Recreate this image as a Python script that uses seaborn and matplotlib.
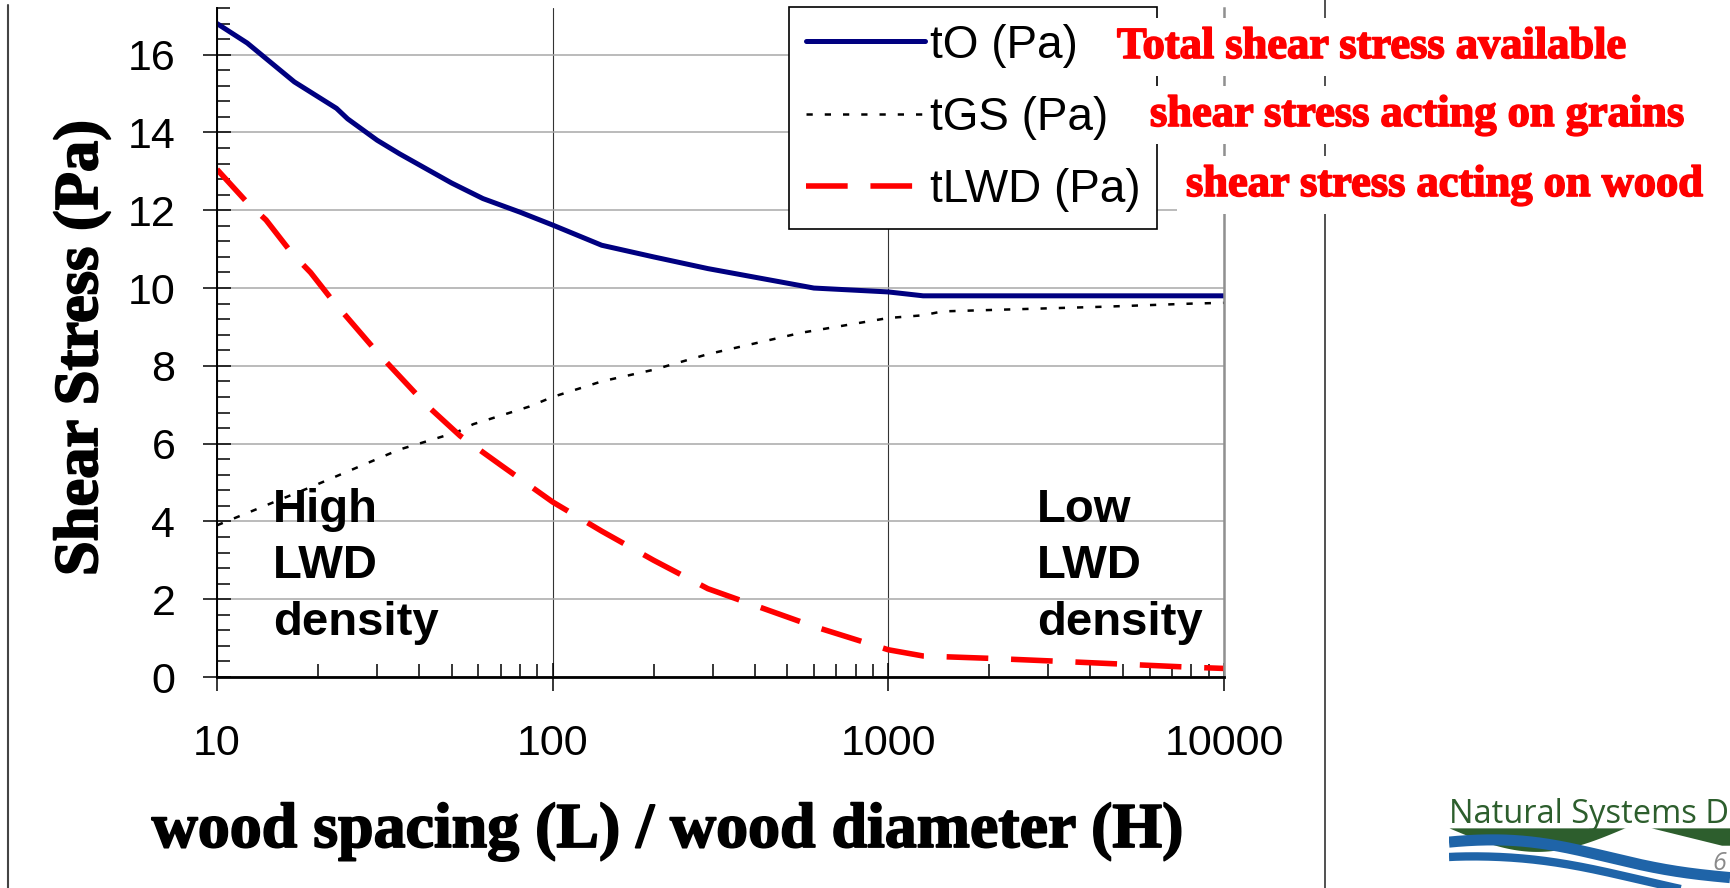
import numpy as np
import pandas as pd
import matplotlib
matplotlib.use("Agg")
import matplotlib.pyplot as plt
import matplotlib.ticker as mticker
import matplotlib.patheffects as pe
from matplotlib.lines import Line2D
import seaborn as sns

# values (x = L/H, y = shear stress in Pa)
x_to = [10, 12.3, 17, 22.7, 24.5, 30, 35, 50, 62, 80, 100, 140, 200, 290, 600, 1000, 1270, 10000]
y_to = [16.8, 16.3, 15.3, 14.62, 14.35, 13.8, 13.45, 12.7, 12.3, 11.95, 11.62, 11.1, 10.8, 10.5, 10.0, 9.9, 9.8, 9.8]

x_gs = [10, 19, 35, 40, 52, 58, 70, 85, 100, 140, 200, 290, 550, 1000, 1270, 1450, 2300, 4400, 8000, 10000]
y_gs = [3.9, 4.88, 5.85, 6.0, 6.3, 6.5, 6.72, 6.95, 7.2, 7.6, 7.9, 8.3, 8.85, 9.23, 9.3, 9.4, 9.45, 9.52, 9.6, 9.62]

x_lwd = [10, 12.3, 14, 16.7, 19, 22, 30, 42, 53, 70, 100, 140, 200, 290, 600, 1000, 1270, 2000, 3300, 5000, 8000, 10000]
y_lwd = [13.05, 12.2, 11.75, 10.9, 10.4, 9.7, 8.35, 7.0, 6.2, 5.45, 4.5, 3.75, 3.0, 2.27, 1.3, 0.7, 0.54, 0.48, 0.4, 0.33, 0.25, 0.22]

series_labels = ["tO (Pa)", "tGS (Pa)", "tLWD (Pa)"]
notes = ["Total shear stress available", "shear stress acting on grains", "shear stress acting on wood"]
xticks = [10, 100, 1000, 10000]
yticks = list(range(0, 17, 2))

W, H = 1730, 888


def fx(px):
    return px / W


def fy(py):
    return 1 - py / H


sns.set_theme(style="white")
plt.rcParams["font.family"] = ["Liberation Sans", "DejaVu Sans"]
plt.rcParams["text.color"] = "black"
serif = ["Liberation Serif", "DejaVu Serif"]

fig = plt.figure(figsize=(17.3, 8.88), dpi=100)
ax = fig.add_axes([fx(217), fy(677), (1224 - 217) / W, (677 - 8) / H])

sns.lineplot(data=pd.DataFrame({"x": x_to, "y": y_to}), x="x", y="y", ax=ax,
             color="#000080", lw=3.6, sort=False, estimator=None, label=series_labels[0])
sns.lineplot(data=pd.DataFrame({"x": x_gs, "y": y_gs}), x="x", y="y", ax=ax,
             color="black", lw=1.8, linestyle=(0, (2.5, 4.8)), sort=False, estimator=None,
             label=series_labels[1])
sns.lineplot(data=pd.DataFrame({"x": x_lwd, "y": y_lwd}), x="x", y="y", ax=ax,
             color="#ff0000", lw=4, linestyle=(0, (7.5, 4.1)), sort=False, estimator=None,
             label=series_labels[2])

ax.set_xscale("log")
ax.set_xlim(10, 10000)
ax.set_ylim(0, 17.2)
ax.set_xticks(xticks)
ax.xaxis.set_major_formatter(mticker.FuncFormatter(lambda v, _: f"{v:g}"))
ax.xaxis.set_minor_locator(mticker.LogLocator(base=10, subs=np.arange(2, 10)))
ax.xaxis.set_minor_formatter(mticker.NullFormatter())
ax.set_yticks(yticks)
ax.yaxis.set_minor_locator(mticker.MultipleLocator(0.4))
ax.set_xlabel("")
ax.set_ylabel("")

ax.set_axisbelow(True)
ax.yaxis.grid(True, color="#a8a8a8", lw=1.1)
ax.xaxis.grid(True, which="major", color="#333333", lw=0.8)

ax.spines["top"].set_visible(False)
ax.spines["left"].set_color("black")
ax.spines["left"].set_linewidth(1.4)
ax.spines["bottom"].set_color("black")
ax.spines["bottom"].set_linewidth(2)
ax.spines["right"].set_color("#909090")
ax.spines["right"].set_linewidth(1.8)

ax.tick_params(axis="both", which="major", direction="inout", length=20, width=1.1,
               color="black", labelsize=31, labelcolor="black")
ax.tick_params(axis="both", which="minor", direction="in", length=9.4, width=1.1, color="black")
ax.tick_params(axis="x", which="both", bottom=True, top=False)
ax.tick_params(axis="y", which="both", left=True, right=False)
ax.tick_params(axis="x", which="major", pad=24)
ax.tick_params(axis="y", which="major", pad=20)

leg = ax.legend(ax.get_lines()[:3], series_labels, loc="upper left",
                bbox_to_anchor=(fx(789), fy(7)), bbox_transform=fig.transFigure,
                borderaxespad=0, frameon=True, fancybox=False, edgecolor="black",
                framealpha=1, fontsize=33, handlelength=2.6, handletextpad=0.12,
                labelspacing=0.62, borderpad=0.36)
leg.get_frame().set_linewidth(1.2)
for txt in leg.get_texts():
    txt.set_color("black")

# region labels inside the plot
for lines, x0 in ((["High", "LWD", "density"], 273), (["Low", "LWD", "density"], 1037)):
    for word, yb in zip(lines, [522, 578, 635]):
        fig.text(fx(x0), fy(yb), word, fontsize=34, fontweight="bold", color="black",
                 ha="left", va="baseline", zorder=4)

# axis titles (heavy serif)
heavy = [pe.withStroke(linewidth=1.3, foreground="black")]
fig.text(fx(97), fy(348), "Shear Stress (Pa)", rotation=90, rotation_mode="anchor",
         ha="center", va="baseline", fontsize=45, fontweight="bold", family=serif,
         color="black", path_effects=heavy)
fig.text(fx(667), fy(847), "wood spacing (L) / wood diameter (H)", ha="center",
         va="baseline", fontsize=46, fontweight="bold", family=serif, color="black",
         path_effects=heavy)

# slide frame lines
fig.add_artist(Line2D([fx(8), fx(8)], [0, fy(5)], color="#444444", lw=1.5, zorder=1))
fig.add_artist(Line2D([fx(1325), fx(1325)], [0, 1], color="#333333", lw=1.2, zorder=1))

# red notes next to the legend
for txt, x0, yb in zip(notes, [1117, 1150, 1186], [58, 126, 196]):
    fig.text(fx(x0), fy(yb), txt, color="#ff0000", fontsize=32, fontweight="bold",
             family=serif, ha="left", va="baseline", zorder=5,
             path_effects=[pe.withStroke(linewidth=1.2, foreground="#ff0000")],
             bbox=dict(boxstyle="square,pad=0.2", fc="white", ec="none"))

# logo in the corner
lax = fig.add_axes([fx(1449), 0, (W - 1449) / W, 62 / H])
lax.set_xlim(0, 1)
lax.set_ylim(0, 1)
lax.axis("off")
t = np.linspace(0, 1, 200)
lax.fill_between(t, 0.97, 0.97 - 0.38 * np.sin(np.pi * np.clip(t * 1.6, 0, 1)),
                 color="#2d5e2d", lw=0)
lax.fill_between(t, 0.97, 0.97 - 0.28 * np.clip((t - 0.72) * 4, 0, 1),
                 color="#2d5e2d", lw=0)
lax.plot(t, 0.74 - 0.55 * t ** 1.6 + 0.08 * np.sin(6 * t), color="#1f64a8", lw=8,
         solid_capstyle="butt")
lax.plot(t, 0.5 - 0.6 * t ** 1.4 + 0.07 * np.sin(5 * t), color="#1f64a8", lw=6,
         solid_capstyle="butt")
fig.text(fx(1449), fy(823), "Natural Systems D", color="#2d5e2d", fontsize=23.5,
         family=["Open Sans", "DejaVu Sans"], ha="left", va="baseline")
fig.text(fx(1712), fy(870), "6", color="#8a8a8a", fontsize=18, style="italic",
         family=["Open Sans", "DejaVu Sans"], ha="left", va="baseline")

fig.savefig("out.png", dpi=100, facecolor="white")
